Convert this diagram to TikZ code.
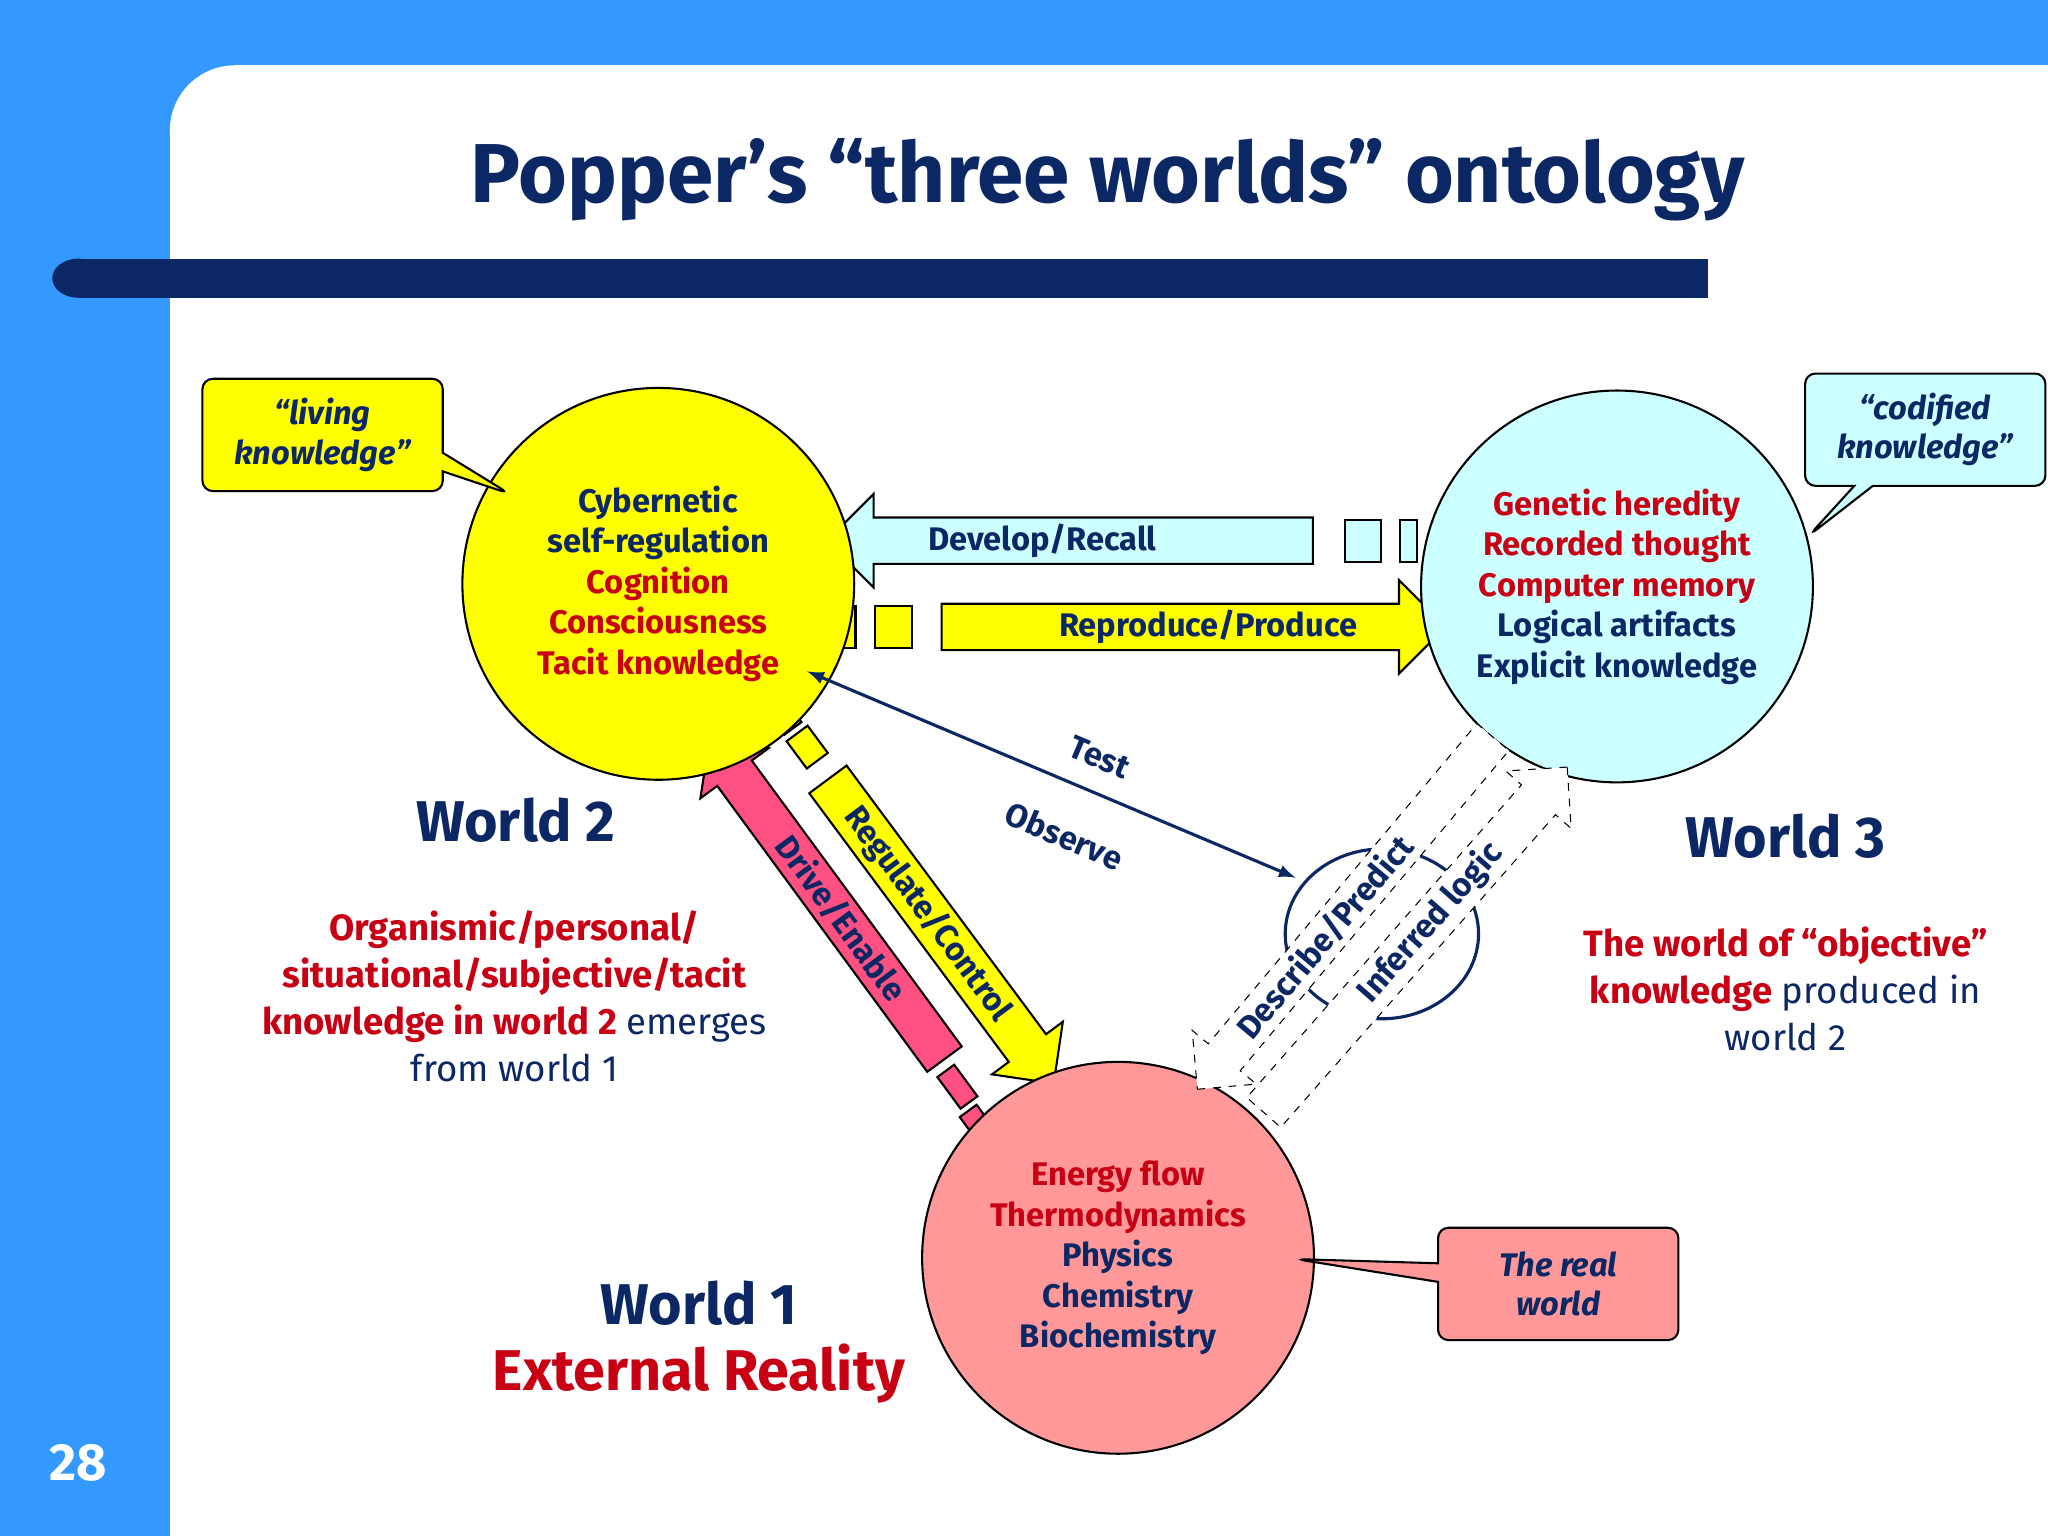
\documentclass[tikz,border=0pt]{standalone}
\usepackage{fontspec}
\setmainfont{Fira Sans}
\usetikzlibrary{shapes.arrows,shapes.callouts}
\definecolor{bg}{RGB}{51,153,255}
\definecolor{navy}{RGB}{12,40,100}
\definecolor{rd}{RGB}{200,0,20}
\definecolor{yl}{RGB}{255,255,0}
\definecolor{cy}{RGB}{204,255,255}
\definecolor{pk}{RGB}{255,153,153}
\definecolor{pk2}{RGB}{255,80,130}
\tikzset{
 world/.style={circle,draw=black,thick,minimum size=150pt,align=center,font=\fontsize{12.5}{15.5}\selectfont\bfseries,text=navy},
 blk/.style={single arrow,draw=black,thick,minimum height=#1,inner sep=2pt,font=\fontsize{12.5}{14}\selectfont\bfseries,text=navy},
 call/.style={rectangle callout,draw=black,thick,rounded corners=4pt,align=center,font=\fontsize{12.5}{15}\selectfont\bfseries\itshape,text=navy,minimum width=92pt,minimum height=43pt},
 wl/.style={font=\fontsize{22}{26}\selectfont\bfseries,text=navy},
 dsh/.style={draw=black,dashed,fill=white}
}
\begin{document}
\begin{tikzpicture}[x=0.5pt,y=-0.5pt]
\useasboundingbox (0,0) rectangle (1568,1176);
\fill[bg] (0,0) rectangle (1568,1176);
\fill[white] (130,100) rectangle (1568,1176);
\fill[white] (180,50) rectangle (1568,1176);
\fill[white] (180,100) circle[radius=50];
\fill[bg] (548,0) rectangle (1568,50);
\node[font=\fontsize{32}{36}\selectfont\bfseries,text=navy] (title) at (848,138) {Popper’s “three worlds” ontology};
\fill[navy] (60,198) rectangle (1308,228);
\fill[navy] (60,213) ellipse[x radius=20,y radius=15];
\node[white,font=\fontsize{20}{24}\selectfont\bfseries] (num) at (60,1120) {28};
% arrows (under circles)
\node[blk=186pt,fill=cy,shape border rotate=180,single arrow head extend=9pt] (dr) at (828,414) {\hspace*{20pt}Develop/Recall\hspace*{50pt}};
\node[blk=193pt,fill=yl,single arrow head extend=9pt] (rp) at (905,480) {\hspace*{40pt}Reproduce/Produce\hspace*{20pt}};
\fill[white] (1016,390) rectangle (1098,440);
\fill[white] (600,455) rectangle (711,505);
\draw[thick,fill=cy] (1030,398) rectangle (1057,430) (1072,398) rectangle (1085,430);
\draw[thick,fill=yl] (641,464) rectangle (655,496) (670,464) rectangle (698,496);
\node[blk=145pt,fill=yl,rotate=-53.4,single arrow head extend=8pt] (rc) at (715,706) {Regulate/Control\hspace*{8pt}};
\node[blk=152pt,fill=pk2,shape border rotate=180,rotate=-53.7,single arrow head extend=8pt] (de) at (638,695) {\hspace*{10pt}Drive/Enable};
\draw[thick,fill=yl,rotate around={-53.4:(600,548)}] (588,540) rectangle (612,556);
\draw[thick,fill=yl,rotate around={-53.4:(618,572)}] (605,562) rectangle (631,582);
\draw[thick,fill=pk2,rotate around={-53.7:(733,832)}] (718,824) rectangle (748,840);
\draw[thick,fill=pk2,rotate around={-53.7:(746,857)}] (738,849) rectangle (754,865);
% circles
\node[world,fill=yl] (w2) at (504,447) {Cybernetic\\self-regulation\\\textcolor{rd}{Cognition}\\\textcolor{rd}{Consciousness}\\\textcolor{rd}{Tacit knowledge}};
\node[world,fill=cy] (w3) at (1238,449) {\textcolor{rd}{Genetic heredity}\\\textcolor{rd}{Recorded thought}\\\textcolor{rd}{Computer memory}\\Logical artifacts\\Explicit knowledge};
\node[world,fill=pk] (w1) at (856,963) {\textcolor{rd}{Energy flow}\\\textcolor{rd}{Thermodynamics}\\Physics\\Chemistry\\Biochemistry};
% test/observe
\coordinate (tA) at (618,514);
\coordinate (tB) at (992,672);
\draw[navy,very thick,latex-latex] (tA) -- (tB);
\node[rotate=-23,font=\fontsize{12.5}{14}\selectfont\bfseries,text=navy] (test) at (842,580) {Test};
\node[rotate=-23,font=\fontsize{12.5}{14}\selectfont\bfseries,text=navy] (obs) at (815,640) {Observe};
% loop
\draw[navy,very thick] (1058,715) ellipse[x radius=74,y radius=65];
% dashed arrows
\node[single arrow,dsh,rotate=50,minimum height=176pt,single arrow head extend=8pt,shape border rotate=180,inner sep=2pt,font=\fontsize{12.5}{14}\selectfont\bfseries,text=navy] (dp) at (1035,693) {\hspace*{8pt}Describe/Predict\hspace*{40pt}};
\node[single arrow,dsh,rotate=48.7,minimum height=176pt,single arrow head extend=8pt,inner sep=2pt,font=\fontsize{12.5}{14}\selectfont\bfseries,text=navy] (il) at (1078,726) {\hspace*{40pt}Inferred logic\hspace*{14pt}};
% callouts
\node[call,fill=yl,callout absolute pointer={(390,378)}] (cl) at (247,333) {“living\\knowledge”};
\node[call,fill=cy,callout absolute pointer={(1385,410)}] (cc) at (1474,329) {“codified\\knowledge”};
\node[call,fill=pk,callout absolute pointer={(992,964)}] (cr) at (1193,983) {The real\\world};
% labels
\node[wl] (l2) at (395,628) {World 2};
\node[wl] (l3) at (1367,640) {World 3};
\node[wl] (l1) at (535,998) {World 1};
\node[font=\fontsize{22}{26}\selectfont\bfseries,text=rd] (er) at (535,1052) {External Reality};
\node[align=center,font=\fontsize{14}{18}\selectfont,text=navy] (t2) at (394,763) {\textbf{\textcolor{rd}{Organismic/personal/}}\\\textbf{\textcolor{rd}{situational/subjective/tacit}}\\\textbf{\textcolor{rd}{knowledge in world 2}} emerges\\from world 1};
\node[align=center,font=\fontsize{14}{18}\selectfont,text=navy] (t3) at (1367,757) {\textbf{\textcolor{rd}{The world of “objective”}}\\\textbf{\textcolor{rd}{knowledge}} produced in\\world 2};
\end{tikzpicture}
\end{document}
